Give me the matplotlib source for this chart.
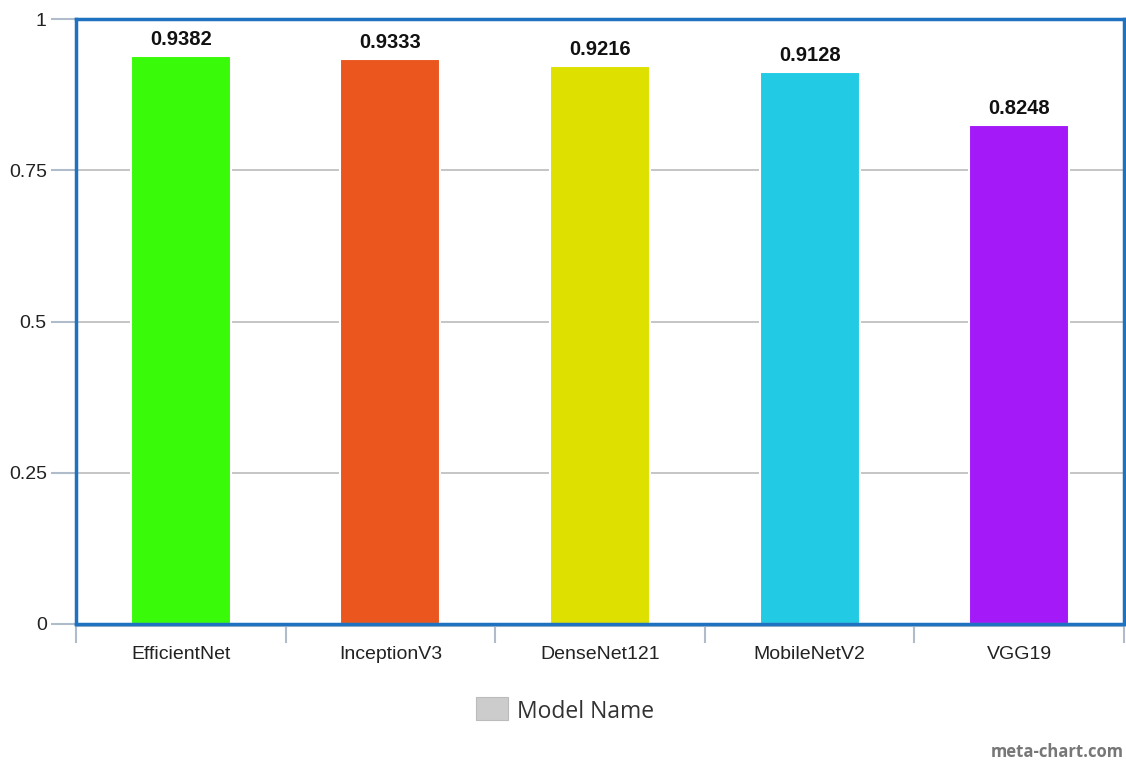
import matplotlib
matplotlib.use("Agg")
import matplotlib.pyplot as plt
from matplotlib.patches import Rectangle

models = ["EfficientNet", "InceptionV3", "DenseNet121", "MobileNetV2", "VGG19"]
scores = [0.9382, 0.9333, 0.9216, 0.9128, 0.8248]
colors = ["#39FA08", "#EB561E", "#DEE000", "#22CBE3", "#A319F7"]
yticks = [0, 0.25, 0.5, 0.75, 1]
yticklabels = ["0", "0.25", "0.5", "0.75", "1"]
legend_label = "Model Name"

plt.rcParams["font.family"] = ["Liberation Sans", "DejaVu Sans"]

fig = plt.figure(figsize=(11.26, 7.62), dpi=100)
ax = fig.add_axes([76/1126, 1-624/762, (1124-76)/1126, (624-19)/762])

x = list(range(len(models)))
ax.set_xlim(-0.5, len(models) - 0.5)
ax.set_ylim(0, 1)

for t in yticks[1:-1]:
    ax.axhline(t, color="#c0c0c0", lw=1.3, zorder=1)

bars = ax.bar(x, scores, width=0.477, color=colors, edgecolor="white", linewidth=1.5, zorder=2)
for xi, s in zip(x, scores):
    ax.annotate(f"{s:.4f}", (xi, s), xytext=(0, 5), textcoords="offset points",
                ha="center", va="bottom", fontsize=14.5, fontweight="bold", color="#111111")

for sp in ax.spines.values():
    sp.set_color("#1f72c0")
    sp.set_linewidth(2.5)
    sp.set_zorder(5)

ax.set_yticks(yticks)
ax.set_yticklabels(yticklabels, fontsize=14, color="#222222")
ax.tick_params(axis="y", length=18, width=1.5, color="#b0bccb", pad=3)
ax.set_xticks(x)
ax.set_xticklabels(models, fontsize=14, color="#222222")
ax.tick_params(axis="x", length=0, pad=16)

# category boundary ticks on the x axis
for b in [i - 0.5 for i in range(len(models) + 1)]:
    ax.plot([b, b], [0, -0.03], transform=ax.get_xaxis_transform(), color="#b0bccb",
            lw=1.5, clip_on=False, zorder=4)
ax.plot([-0.5, len(models) - 0.5], [-0.004, -0.004], transform=ax.get_xaxis_transform(),
        color="#b0bccb", lw=1.5, clip_on=False, zorder=4)

# legend
fig.patches.append(Rectangle((476/1126, 1-720/762), 32/1126, 23/762, transform=fig.transFigure,
                             facecolor="#cccccc", edgecolor="#bbbbbb", lw=0.8))
fig.text(517/1126, 1-712/762, legend_label, fontsize=16.5, color="#333333", va="center", ha="left",
         family=["Open Sans", "DejaVu Sans"])

fig.text(1124/1126, 1-752/762, "meta-chart.com", fontsize=12, color="#777777", ha="right",
         va="center", fontweight="bold", family=["Open Sans", "DejaVu Sans"])

fig.savefig("out.png", dpi=100, facecolor="white")
